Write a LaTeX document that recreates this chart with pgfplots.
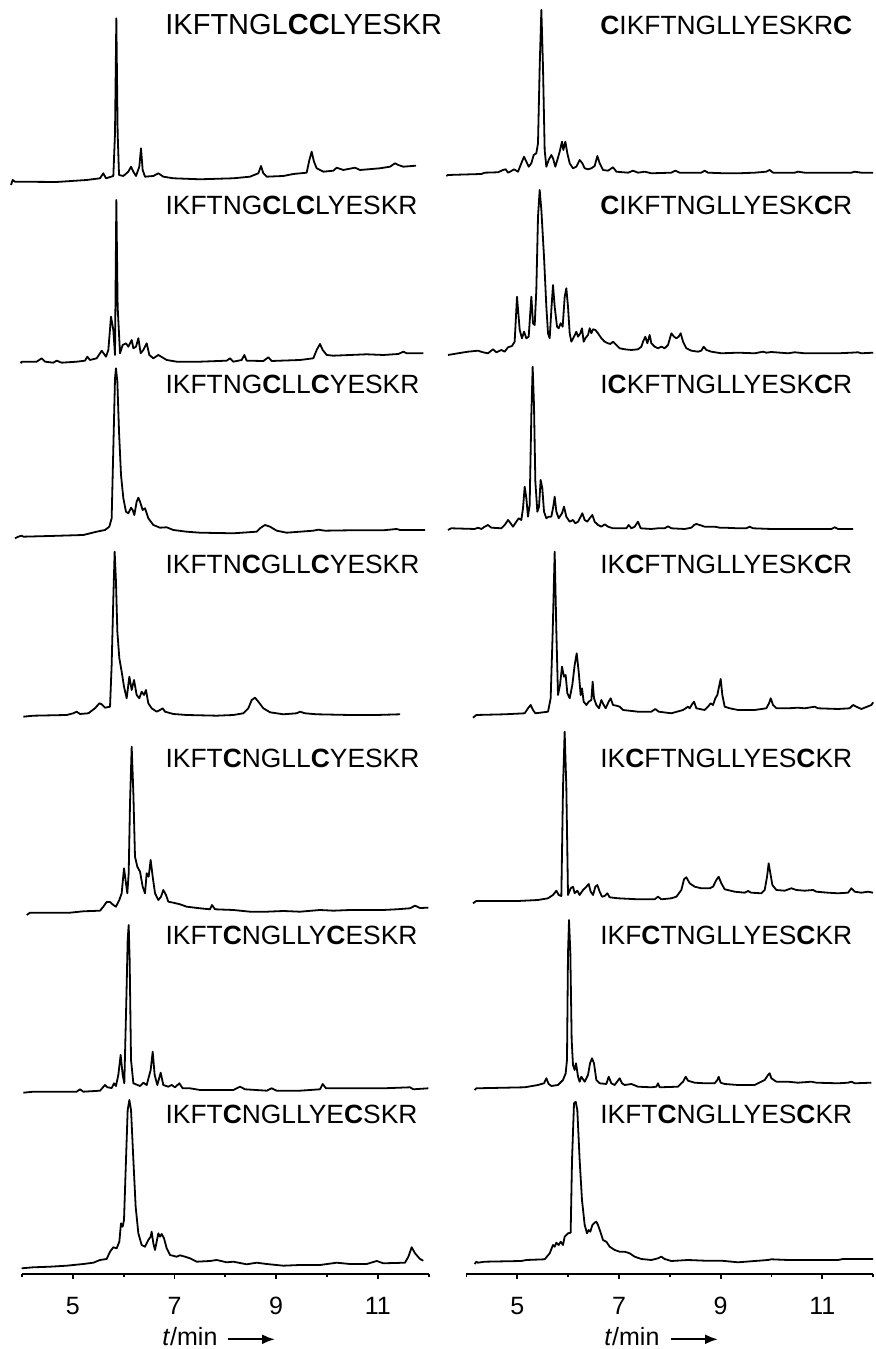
\documentclass[border=0pt]{standalone}
\usepackage{fontspec}
\setmainfont{Liberation Sans}
\usepackage{pgfplots}
\pgfplotsset{compat=1.18}
\usetikzlibrary{arrows.meta}

\pgfplotsset{chrom/.style={
  x=25.425pt, y=0.5pt, xmin=4, xmax=12, ymin=75, ymax=1349,
  axis x line*=bottom, hide y axis, clip=false,
  xtick={5,7,9,11}, minor xtick={4,6,8,10,12},
  tick align=outside, major tick length=2.5pt, minor tick length=1.5pt,
  tick style={black, line width=0.9pt},
  axis line style={black, line width=0.9pt},
  /pgf/number format/assume math mode=true,
  xticklabel style={font=\fontsize{12.5}{14}\selectfont, yshift=-5.5pt},
  anchor=south west,
},
tr/.style={black, solid, line width=0.9pt, line join=round, mark=none}}

\begin{document}
\begin{tikzpicture}
\useasboundingbox (0,0) rectangle (438pt,674.5pt);

% ---------------- left column ----------------
\begin{axis}[chrom, at={(10.95pt,37.5pt)}]
% L1 IKFTNGLCCLYESKR
\addplot[tr] coordinates {(3.786,1164)(3.818,1169)(3.864,1167.3)(4.684,1167)(5.274,1169)(5.536,1170.7)(5.601,1175.7)(5.654,1170.7)(5.798,1173)(5.831,1215.7)(5.857,1330.7)(5.883,1215.7)(5.910,1174)(5.995,1173)(6.093,1177.3)(6.146,1182.3)(6.191,1177.3)(6.244,1173)(6.309,1182.3)(6.342,1200.7)(6.375,1179)(6.421,1172.3)(6.585,1173)(6.683,1175.7)(6.781,1172.3)(6.978,1170.7)(7.502,1169.7)(8.158,1170.7)(8.486,1172.3)(8.650,1175.7)(8.702,1183)(8.748,1175.7)(8.814,1172.3)(9.141,1173)(9.338,1175)(9.600,1176.3)(9.653,1189)(9.698,1197.3)(9.744,1187.3)(9.797,1180.7)(9.928,1177.3)(10.125,1178.3)(10.190,1181.3)(10.321,1179)(10.551,1181.3)(10.649,1179)(11.043,1180.7)(11.239,1182.3)(11.337,1185.7)(11.403,1184)(11.501,1182.3)(11.750,1183.3)};
% L2 IKFTNGCLCLYESKR
\addplot[tr] coordinates {(3.976,985.7)(3.995,987.3)(4.290,987.3)(4.389,990.7)(4.454,987.3)(4.618,986.3)(4.684,988.3)(4.782,986.3)(5.077,987.3)(5.241,988.3)(5.287,992.3)(5.339,989)(5.470,990.7)(5.536,995.7)(5.569,998.3)(5.654,992.3)(5.700,999)(5.752,1032.3)(5.798,1019)(5.831,994)(5.857,1149)(5.883,1042.3)(5.929,995.7)(5.982,1004)(6.047,1005.7)(6.093,1002.3)(6.159,1009)(6.192,1000.7)(6.244,1002.3)(6.290,1010.7)(6.336,995.7)(6.388,999)(6.454,1005.7)(6.506,994)(6.585,990.7)(6.683,994)(6.847,989)(7.044,987.3)(7.502,987.3)(8.027,988.3)(8.093,990.7)(8.158,987.3)(8.322,989)(8.374,994)(8.420,988.3)(8.748,988)(8.846,991.7)(8.912,988)(9.469,989)(9.731,990.7)(9.797,999)(9.862,1005)(9.915,999)(9.994,994)(10.125,993.3)(10.452,994)(10.780,994.7)(11.108,994)(11.403,995)(11.501,997.3)(11.567,995.7)(11.894,995.7)};
% L3 IKFTNGCLLCYESKR
\addplot[tr] coordinates {(3.864,810.7)(3.930,812.3)(3.995,813.3)(4.028,812.3)(4.553,813)(5.208,814)(5.470,817.3)(5.634,819)(5.719,822.3)(5.765,830.7)(5.798,900.7)(5.831,970.7)(5.850,980.7)(5.877,967.3)(5.910,917.3)(5.949,874)(5.995,850.7)(6.047,837.3)(6.093,835.7)(6.146,841.3)(6.178,839)(6.211,834)(6.257,847.3)(6.290,851.3)(6.323,847.3)(6.375,839)(6.421,840.7)(6.486,830.7)(6.585,824)(6.716,821.3)(6.847,821.7)(6.978,819)(7.240,817.3)(7.502,816.3)(8.158,815.7)(8.617,817.3)(8.682,820.7)(8.781,824)(8.879,822.3)(9.010,818.3)(9.207,816.3)(9.469,817.3)(9.731,818.3)(9.830,819.3)(9.961,818.3)(10.452,818.7)(11.108,818.7)(11.370,820)(11.436,819)(11.927,819)};
% L4 IKFTNCGLLCYESKR
\addplot[tr] coordinates {(4.028,632.3)(4.225,633.3)(4.880,634)(5.011,635.7)(5.077,637.3)(5.143,635)(5.306,635.7)(5.438,640.7)(5.523,645.7)(5.569,644.7)(5.634,641.3)(5.733,642.3)(5.765,684)(5.798,750.7)(5.824,797.3)(5.850,767.3)(5.877,717.3)(5.916,690.7)(5.962,677.3)(6.008,662.3)(6.060,650.7)(6.113,672.3)(6.159,659)(6.205,669)(6.257,654)(6.309,650.7)(6.355,657.3)(6.401,654)(6.440,659)(6.486,645.7)(6.552,640.7)(6.650,637.3)(6.716,639)(6.768,640.7)(6.814,637.3)(6.978,635)(7.240,634)(7.830,633.3)(8.158,634)(8.355,635.7)(8.453,640.7)(8.519,649)(8.584,651.3)(8.650,647.3)(8.748,640.7)(8.879,636.7)(9.141,634.7)(9.403,635.7)(9.469,637.3)(9.567,635.7)(9.797,634.7)(10.452,634)(10.977,634)(11.436,634.7)};
% L5 IKFTCNGLLCYESKR
\addplot[tr] coordinates {(4.094,434)(4.159,436.3)(4.946,436.3)(5.208,437.7)(5.536,438.3)(5.601,442.3)(5.667,447)(5.733,447)(5.798,444)(5.850,442.3)(5.916,449)(5.962,455.7)(6.008,480.7)(6.047,465.7)(6.073,455.7)(6.100,475.7)(6.126,545.7)(6.159,602.3)(6.192,555.7)(6.224,492.3)(6.270,482.3)(6.323,477.3)(6.375,462.3)(6.421,455.7)(6.454,475.7)(6.493,472.3)(6.532,489)(6.572,472.3)(6.618,455.7)(6.683,449)(6.736,452.3)(6.781,459)(6.834,454)(6.880,447.3)(6.978,446.3)(7.109,444.7)(7.240,442.3)(7.502,440.7)(7.699,439.7)(7.738,444)(7.797,439.7)(8.158,439)(8.486,437.3)(8.814,437.3)(9.141,438)(9.469,437.3)(9.862,439)(10.125,438.3)(10.452,439)(10.780,439)(11.108,439)(11.370,439.7)(11.632,440.7)(11.731,443.3)(11.829,441)(11.993,441.3)};
% L6 IKFTCNGLLYCESKR
\addplot[tr] coordinates {(4.028,256.3)(4.225,257.3)(5.077,257.3)(5.143,259.7)(5.208,257.3)(5.536,258.3)(5.634,264)(5.680,261.7)(5.765,261)(5.811,265.7)(5.850,263)(5.896,274)(5.942,294)(5.982,274)(6.014,265.7)(6.054,349)(6.080,409)(6.100,424)(6.119,389)(6.146,289)(6.192,265.7)(6.323,263)(6.388,266.3)(6.454,264)(6.532,279)(6.572,297.3)(6.611,274)(6.663,264)(6.729,276.3)(6.781,264)(6.880,262.3)(6.945,264)(7.011,261.7)(7.096,265.7)(7.162,260.7)(7.306,260.7)(7.502,259)(8.158,259)(8.289,262.3)(8.388,259.7)(8.814,258.3)(8.912,260.7)(9.010,258.3)(9.469,258.3)(9.862,259.7)(9.915,265)(9.980,260.7)(10.452,260.7)(11.108,260.7)(11.632,261.7)(11.698,259.7)(11.993,260.7)};
% L7 IKFTCNGLLYECSKR
\addplot[tr] coordinates {(3.995,80.7)(4.225,81.7)(4.553,82.3)(4.880,83.3)(5.208,85)(5.405,86.3)(5.536,89)(5.667,90)(5.733,97.3)(5.798,101.7)(5.864,100.7)(5.916,107.3)(5.949,125.7)(5.982,122.3)(6.008,129)(6.047,189)(6.080,239)(6.113,249)(6.146,239)(6.192,189)(6.237,142.3)(6.290,115.7)(6.355,104)(6.421,102.3)(6.486,109)(6.532,112.3)(6.552,117.3)(6.585,105.7)(6.618,99)(6.650,107.3)(6.683,115.7)(6.716,112.3)(6.749,115)(6.795,110.7)(6.847,100.7)(6.913,94)(7.044,92.3)(7.109,93.7)(7.208,92.3)(7.306,90.7)(7.437,87.3)(7.699,88)(7.830,89)(8.027,86.7)(8.158,87.3)(8.420,84.7)(8.617,86.3)(8.814,85)(9.141,83.3)(9.469,84)(9.862,84)(10.190,86.3)(10.452,85)(10.780,85)(10.977,88)(11.108,85.7)(11.534,86.3)(11.600,92.3)(11.665,101.7)(11.731,95.7)(11.829,90)(11.894,88.3)};
\end{axis}

% ---------------- right column ----------------
\begin{axis}[chrom, at={(233.2pt,37.5pt)}]
% R1 CIKFTNGLLYESKRC
\addplot[tr] coordinates {(3.605,1173)(3.638,1174)(4.294,1175)(4.359,1176.3)(4.621,1176.7)(4.720,1179)(4.772,1179.7)(4.818,1176.3)(4.884,1178)(4.936,1179.7)(5.015,1177.3)(5.080,1185.7)(5.133,1192.3)(5.179,1187.3)(5.225,1182.3)(5.277,1185.7)(5.323,1194)(5.375,1195.7)(5.408,1205.7)(5.441,1282.3)(5.474,1339)(5.506,1282.3)(5.539,1199)(5.572,1182.3)(5.618,1189)(5.670,1194)(5.703,1190.7)(5.749,1182.3)(5.788,1189)(5.834,1197.3)(5.880,1207.3)(5.906,1199)(5.946,1207.3)(5.985,1195.7)(6.031,1185.7)(6.096,1180.7)(6.162,1182.3)(6.228,1189)(6.280,1185.7)(6.326,1180.7)(6.391,1179.7)(6.457,1180.7)(6.522,1183)(6.575,1193)(6.621,1185.7)(6.686,1179)(6.785,1178.3)(6.883,1181.7)(6.949,1177.3)(7.178,1176.3)(7.276,1178.3)(7.375,1176.3)(7.506,1177.3)(7.637,1175.7)(8.030,1176.3)(8.109,1178.3)(8.194,1176.3)(8.620,1176.3)(8.686,1178.3)(8.751,1176.3)(9.079,1175.7)(9.341,1175.7)(9.669,1176.3)(9.898,1177.3)(9.964,1179)(10.030,1176.3)(10.456,1176.3)(10.521,1177.3)(10.652,1176.3)(11.308,1176.3)(11.570,1176.3)(11.636,1177.3)(11.767,1176.3)(12.0,1176.3)};
% R2 CIKFTNGLLYESKCR
\addplot[tr] coordinates {(3.638,994)(3.835,995.7)(4.031,997.3)(4.228,998.3)(4.326,996.7)(4.425,995.7)(4.523,999.7)(4.589,996.7)(4.687,999)(4.753,997.3)(4.818,1001.7)(4.897,1003)(4.949,1007.3)(4.995,1052.3)(5.048,1019)(5.093,1010.7)(5.133,1017.3)(5.179,1010.7)(5.225,1012.3)(5.277,1052.3)(5.310,1025.7)(5.343,1024)(5.375,1059)(5.408,1132.3)(5.441,1159)(5.474,1139)(5.526,1092.3)(5.572,1042.3)(5.605,1015.7)(5.638,1010.7)(5.670,1039)(5.703,1064)(5.736,1042.3)(5.782,1022.3)(5.815,1020.7)(5.854,1025.7)(5.893,1022.3)(5.933,1052.3)(5.965,1060.7)(5.998,1042.3)(6.031,1015.7)(6.064,1007.3)(6.116,1012.3)(6.162,1017.3)(6.195,1012.3)(6.241,1015.7)(6.273,1020.7)(6.306,1007.3)(6.339,1010.7)(6.391,1014)(6.424,1020.7)(6.457,1015.7)(6.490,1019.7)(6.536,1019)(6.588,1015.7)(6.654,1010.7)(6.719,1007.3)(6.785,1005.7)(6.831,1005)(6.883,1007.3)(6.949,1004)(7.014,1000.7)(7.112,999.7)(7.244,999)(7.375,999.7)(7.440,1002.3)(7.473,1007.3)(7.519,1012.3)(7.558,1005.7)(7.604,1014)(7.637,1005.7)(7.702,1002.3)(7.768,1000.7)(7.834,1002.3)(7.899,1000.7)(7.965,1004)(8.030,1015.7)(8.083,1012.3)(8.129,1010.7)(8.174,1012.3)(8.214,1015.7)(8.260,1007.3)(8.325,1000.7)(8.424,998.3)(8.555,997.3)(8.620,998.3)(8.666,1002.3)(8.719,999)(8.817,997.3)(9.013,995.7)(9.341,996.3)(9.669,995.7)(9.833,997.3)(9.898,996.3)(9.997,997)(10.324,995.7)(10.456,996.7)(10.652,995.7)(11.308,995.7)(11.570,996.3)(11.701,996.7)(11.767,995.7)(12.0,996.3)};
% R3 ICKFTNGLLYESKCR
\addplot[tr] coordinates {(3.638,819)(3.704,820.7)(4.163,820)(4.228,821.3)(4.294,820)(4.359,822.3)(4.425,824)(4.490,821.3)(4.687,820.7)(4.753,824)(4.818,829)(4.870,825.7)(4.916,822.3)(4.982,827.3)(5.028,830.7)(5.080,829)(5.113,840.7)(5.146,862.3)(5.179,850.7)(5.211,832.3)(5.244,844)(5.277,934)(5.303,982.3)(5.329,944)(5.356,867.3)(5.395,837.3)(5.428,842.3)(5.460,869)(5.493,860.7)(5.526,837.3)(5.572,830.7)(5.618,832.3)(5.670,832.3)(5.703,840.7)(5.736,852.3)(5.769,837.3)(5.815,830.7)(5.880,835.7)(5.919,842.3)(5.965,832.3)(6.031,827.3)(6.096,829)(6.142,825.7)(6.195,827.3)(6.247,832.3)(6.280,835.7)(6.326,829)(6.378,827.3)(6.424,830.7)(6.477,834)(6.522,827.3)(6.588,824)(6.654,822.3)(6.719,824.7)(6.785,822.3)(6.883,820.7)(7.145,820.7)(7.191,824)(7.244,820.7)(7.309,822.3)(7.375,827.3)(7.427,820.7)(7.637,820)(7.768,820.7)(7.899,820.7)(7.965,822.7)(8.030,820.7)(8.292,820)(8.424,821.3)(8.476,824)(8.522,825)(8.587,824)(8.686,822.3)(8.882,822.3)(8.981,821.3)(9.079,821.3)(9.341,820.7)(9.505,820.7)(9.571,822.3)(9.636,820.7)(9.997,820)(10.652,820)(11.177,820)(11.242,821.7)(11.308,820)(11.603,820)};
% R4 IKCFTNGLLYESKCR
\addplot[tr] coordinates {(4.130,631.3)(4.195,634)(4.753,634.7)(5.146,635.7)(5.211,640.7)(5.264,644)(5.310,639)(5.356,635.7)(5.605,637.3)(5.657,650.7)(5.697,717.3)(5.736,797.3)(5.769,717.3)(5.801,654)(5.841,664)(5.880,682.3)(5.919,672.3)(5.952,674)(5.985,655.7)(6.031,650.7)(6.083,664)(6.129,684)(6.169,695.7)(6.208,677.3)(6.247,654)(6.273,660.7)(6.306,647.3)(6.359,644)(6.405,647.3)(6.457,649)(6.483,667.3)(6.509,650.7)(6.555,644)(6.608,640.7)(6.654,649)(6.693,644.7)(6.739,640.7)(6.798,647.3)(6.837,650.7)(6.883,644)(6.949,643.3)(7.014,642.3)(7.080,639)(7.375,637.3)(7.637,637.3)(7.715,640)(7.781,637.3)(8.030,635.7)(8.260,639)(8.358,642.3)(8.391,640.7)(8.437,644.7)(8.476,647.3)(8.522,640.7)(8.686,639)(8.751,642.3)(8.804,645.7)(8.850,644)(8.895,650.7)(8.935,654)(8.961,660.7)(9.000,670)(9.033,654)(9.079,642.3)(9.178,640.7)(9.341,639)(9.669,639)(9.898,640.7)(9.951,645.7)(9.984,650.7)(10.030,644)(10.095,640.7)(10.325,640.7)(10.521,641.3)(10.652,640.7)(10.849,642.3)(10.915,640.7)(11.308,640)(11.537,640.7)(11.603,644)(11.668,642.3)(11.767,640)(11.964,644)(12.0,646.7)};
% R5 IKCFTNGLLYESCKR
\addplot[tr] coordinates {(4.130,445.7)(4.195,448)(5.015,448)(5.408,449)(5.605,450.7)(5.703,454)(5.769,458.3)(5.815,454)(5.867,453)(5.900,562.3)(5.932,617.3)(5.965,562.3)(5.998,454)(6.050,460.7)(6.096,462.3)(6.129,455.7)(6.181,458.3)(6.227,454)(6.293,459)(6.359,462.3)(6.405,465)(6.444,457.3)(6.490,454)(6.536,462.3)(6.575,464)(6.621,457.3)(6.667,452.3)(6.719,453)(6.772,455.7)(6.817,451.7)(6.981,450.7)(7.375,449.7)(7.702,449.7)(7.768,452.3)(7.834,449.7)(8.030,450.7)(8.129,452.3)(8.227,459)(8.279,469.7)(8.325,471.7)(8.391,465.7)(8.489,462.3)(8.620,460.7)(8.784,460.7)(8.850,462.3)(8.915,469)(8.961,472.3)(9.013,465.7)(9.079,459.7)(9.276,457.3)(9.472,456.3)(9.538,458)(9.603,456.3)(9.800,455.7)(9.866,459)(9.912,472.3)(9.944,485.7)(9.977,475.7)(10.017,464)(10.095,459)(10.259,458.3)(10.390,460.7)(10.488,459)(10.652,458.3)(10.816,459)(10.882,457.3)(11.111,456.3)(11.308,455.7)(11.505,456.3)(11.570,460.7)(11.636,457.3)(11.767,456.3)(11.898,457.3)(11.996,456.3)};
% R6 IKFCTNGLLYESCKR
\addplot[tr] coordinates {(4.163,259)(4.195,260.7)(5.146,261.7)(5.408,264)(5.474,265)(5.526,265.7)(5.572,270.7)(5.618,265)(5.670,263)(5.801,264)(5.900,269)(5.952,275.7)(5.978,289)(5.998,395.7)(6.018,429)(6.044,395.7)(6.070,309)(6.096,284)(6.129,279)(6.155,285.7)(6.195,272.3)(6.227,267.3)(6.260,272.3)(6.326,267.3)(6.391,274)(6.431,285.7)(6.470,290.7)(6.509,285.7)(6.555,269)(6.621,265.7)(6.752,265)(6.798,272.3)(6.850,265.7)(6.916,264)(7.014,270.7)(7.060,265.7)(7.112,264)(7.244,265)(7.375,262.3)(7.637,261.7)(7.735,262.3)(7.768,265.7)(7.801,261.7)(8.161,262.3)(8.260,267.3)(8.312,272.3)(8.358,268.3)(8.489,266.3)(8.686,265.7)(8.882,265.7)(8.935,269)(8.961,272.3)(9.000,266.3)(9.079,265)(9.341,264)(9.669,264)(9.866,269)(9.931,274)(9.964,275.7)(9.997,270.7)(10.095,267.3)(10.324,267.3)(10.521,266.3)(10.783,267.3)(10.882,266.3)(11.308,265.7)(11.505,266.3)(11.570,267.3)(11.636,265.7)(11.964,266.3)};
% R7 IKFTCNGLLYESCKR
\addplot[tr] coordinates {(4.163,85)(4.195,87.3)(4.228,86.3)(4.359,87.3)(5.080,88)(5.179,89)(5.539,89.7)(5.638,95.7)(5.703,104)(5.736,102.3)(5.769,106.3)(5.815,104)(5.854,107.3)(5.900,104)(5.932,112.3)(5.998,115.7)(6.050,116.3)(6.077,189)(6.116,245.7)(6.149,247.3)(6.181,239)(6.227,189)(6.273,149)(6.326,124)(6.372,115.7)(6.405,119)(6.437,117.3)(6.477,124)(6.522,126.3)(6.555,127.3)(6.588,124)(6.634,117.3)(6.686,109)(6.752,107.3)(6.817,102.3)(6.916,99)(7.014,97.3)(7.112,97.3)(7.211,95.7)(7.309,92.3)(7.440,90)(7.637,89)(7.768,90.7)(7.834,92.3)(7.899,90)(8.030,88)(8.358,89)(8.686,88.3)(9.013,88.3)(9.341,86.7)(9.669,88)(9.931,89)(9.997,89.7)(10.324,89)(10.652,89)(11.308,89)(11.406,90)(11.636,90)(11.996,90)};
\end{axis}

% ---------------- labels ----------------
\begin{scope}[every node/.style={anchor=base west, inner sep=0pt, font=\fontsize{13.2}{15}\selectfont}]
\node[font=\fontsize{14.5}{16}\selectfont] at (82.5pt,657pt) {IKFTNGL\textbf{CC}LYESKR};
\node at (82.6pt,567pt) {IKFTNG\textbf{C}L\textbf{C}LYESKR};
\node at (82.6pt,477.85pt) {IKFTNG\textbf{C}LL\textbf{C}YESKR};
\node at (82.6pt,387.85pt) {IKFTN\textbf{C}GLL\textbf{C}YESKR};
\node at (82.6pt,290.85pt) {IKFT\textbf{C}NGLL\textbf{C}YESKR};
\node at (82.6pt,202pt) {IKFT\textbf{C}NGLLY\textbf{C}ESKR};
\node at (82.6pt,112.5pt) {IKFT\textbf{C}NGLLYE\textbf{C}SKR};
\node at (300pt,657pt) {\textbf{C}IKFTNGLLYESKR\textbf{C}};
\node at (300pt,567pt) {\textbf{C}IKFTNGLLYESK\textbf{C}R};
\node at (300pt,477.85pt) {I\textbf{C}KFTNGLLYESK\textbf{C}R};
\node at (300pt,387.85pt) {IK\textbf{C}FTNGLLYESK\textbf{C}R};
\node at (300pt,290.85pt) {IK\textbf{C}FTNGLLYES\textbf{C}KR};
\node at (300pt,202pt) {IKF\textbf{C}TNGLLYES\textbf{C}KR};
\node at (300pt,112.5pt) {IKFT\textbf{C}NGLLYES\textbf{C}KR};
\node[font=\fontsize{12.5}{14}\selectfont] at (81pt,1.65pt) {\textit{t}/min};
\node[font=\fontsize{12.5}{14}\selectfont] at (302pt,1.65pt) {\textit{t}/min};
\end{scope}
\draw[line width=1.1pt, -{Latex[length=6.5pt,width=5pt]}] (113.8pt,4.85pt) -- (137.5pt,4.85pt);
\draw[line width=1.1pt, -{Latex[length=6.5pt,width=5pt]}] (335.7pt,4.85pt) -- (359pt,4.85pt);
\end{tikzpicture}
\end{document}
